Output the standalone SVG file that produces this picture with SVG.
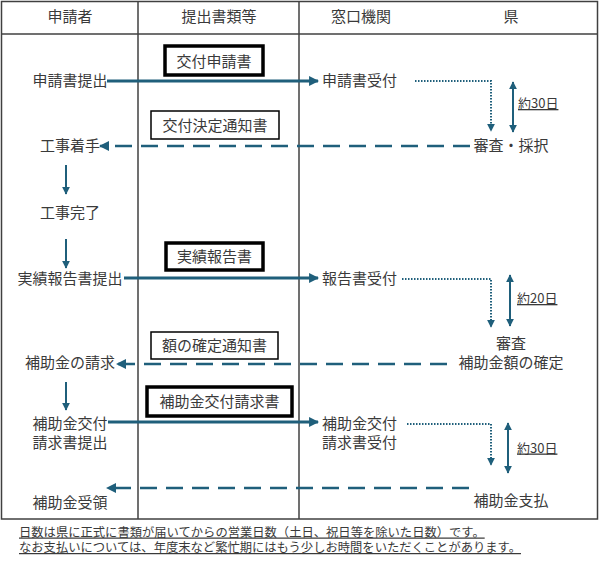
<svg xmlns="http://www.w3.org/2000/svg" width="600" height="564" viewBox="0 0 600 564">
<defs>
<style>
text{font-family:"Noto Sans CJK JP","Noto Sans",sans-serif;fill:#3a3a3a;font-size:15px}
.m{text-anchor:middle}
.day{font-size:13px;text-decoration:underline}
.note{font-size:12.3px;text-decoration:underline}
.grid{stroke:#404040;stroke-width:1.5;fill:none}
.solid{stroke:#1f5f7b;stroke-width:3;fill:none}
.dash{stroke:#1f5f7b;stroke-width:2.5;fill:none;stroke-dasharray:17 9}
.dot{stroke:#1f5f7b;stroke-width:2;fill:none;stroke-dasharray:1.5 1.5}
.thin{stroke:#1f5f7b;stroke-width:2;fill:none}
.thick{fill:#fff;stroke:#000;stroke-width:3.5}
.box{fill:#fff;stroke:#000;stroke-width:1.5}
</style>
<marker id="ah" viewBox="0 0 10 10" refX="9" refY="5" markerWidth="3.3" markerHeight="3.3" orient="auto-start-reverse" markerUnits="strokeWidth"><path d="M0,0L10,5L0,10z" fill="#1f5f7b"/></marker>
<marker id="ahs" viewBox="0 0 10 10" refX="9" refY="5" markerWidth="4" markerHeight="4" orient="auto-start-reverse" markerUnits="strokeWidth"><path d="M0,0L10,5L0,10z" fill="#1f5f7b"/></marker>
<marker id="ahd" viewBox="0 0 10 10" refX="9" refY="5" markerWidth="4" markerHeight="4" orient="auto-start-reverse" markerUnits="strokeWidth"><path d="M0,0L10,5L0,10z" fill="#1f5f7b"/></marker>
</defs>
<g id="table">
<rect x="1.5" y="1.5" width="596" height="517.5" class="grid"/>
<line x1="1.5" y1="34" x2="597.5" y2="34" class="grid"/>
<line x1="138" y1="1.5" x2="138" y2="519" class="grid"/>
<line x1="299" y1="1.5" x2="299" y2="519" class="grid"/>
<text x="70" y="21.5" class="m">申請者</text>
<text x="219" y="21.5" class="m">提出書類等</text>
<text x="361" y="21.5" class="m">窓口機関</text>
<text x="511" y="21.5" class="m">県</text>
</g>
<g id="connectors">
<line x1="107" y1="81" x2="318" y2="81" class="solid" marker-end="url(#ah)"/>
<polyline points="415,81 491,81 491,131" class="dot" marker-end="url(#ahd)"/>
<line x1="513" y1="82" x2="513" y2="132" class="thin" marker-start="url(#ahs)" marker-end="url(#ahs)"/>
<line x1="470" y1="146" x2="100" y2="146" class="dash" marker-end="url(#ahd)"/>
<line x1="66" y1="165" x2="66" y2="194" class="thin" marker-end="url(#ahs)"/>
<line x1="66" y1="239" x2="66" y2="268" class="thin" marker-end="url(#ahs)"/>
<line x1="124" y1="278" x2="318" y2="278" class="solid" marker-end="url(#ah)"/>
<polyline points="402,279 491,279 491,327" class="dot" marker-end="url(#ahd)"/>
<line x1="510" y1="275" x2="510" y2="326" class="thin" marker-start="url(#ahs)" marker-end="url(#ahs)"/>
<line x1="447" y1="364" x2="117" y2="364" class="dash" marker-end="url(#ahd)"/>
<line x1="66" y1="382" x2="66" y2="410" class="thin" marker-end="url(#ahs)"/>
<line x1="108" y1="422" x2="318" y2="422" class="solid" marker-end="url(#ah)"/>
<polyline points="407,424 491,424 491,465" class="dot" marker-end="url(#ahd)"/>
<line x1="508" y1="423" x2="508" y2="473" class="thin" marker-start="url(#ahs)" marker-end="url(#ahs)"/>
<line x1="469" y1="488" x2="107" y2="488" class="dash" marker-end="url(#ahd)"/>
</g>
<g id="doc1"><rect x="165" y="46" width="98" height="29" class="thick"/><text x="214" y="67" class="m">交付申請書</text></g>
<g id="doc2"><rect x="151" y="111" width="128" height="28" class="box"/><text x="215" y="130.5" class="m">交付決定通知書</text></g>
<g id="doc3"><rect x="166" y="243" width="97" height="27" class="thick"/><text x="214.5" y="262" class="m">実績報告書</text></g>
<g id="doc4"><rect x="151" y="332" width="127" height="27" class="box"/><text x="214.5" y="351" class="m">額の確定通知書</text></g>
<g id="doc5"><rect x="147" y="387" width="145" height="29" class="thick"/><text x="219.5" y="407" class="m">補助金交付請求書</text></g>
<g id="n1"><text x="70" y="85.5" class="m">申請書提出</text></g>
<g id="n2"><text x="322" y="85.5">申請書受付</text></g>
<g id="n3"><text x="511" y="151" class="m">審査・採択</text></g>
<g id="n4"><text x="70" y="151" class="m">工事着手</text></g>
<g id="n5"><text x="70" y="217.5" class="m">工事完了</text></g>
<g id="n6"><text x="70" y="283.5" class="m">実績報告書提出</text></g>
<g id="n7"><text x="322" y="283.5">報告書受付</text></g>
<g id="n8"><text x="511" y="348.5" class="m">審査</text><text x="511" y="368" class="m">補助金額の確定</text></g>
<g id="n9"><text x="70" y="367.5" class="m">補助金の請求</text></g>
<g id="n10"><text x="70" y="428.5" class="m">補助金交付</text><text x="70" y="447.5" class="m">請求書提出</text></g>
<g id="n11"><text x="322" y="428.5">補助金交付</text><text x="322" y="447.5">請求書受付</text></g>
<g id="n12"><text x="70" y="507.5" class="m">補助金受領</text></g>
<g id="n13"><text x="511" y="505.5" class="m">補助金支払</text></g>
<g id="days"><text x="518" y="108" class="day">約30日</text><text x="517" y="303" class="day">約20日</text><text x="517" y="452.5" class="day">約30日</text></g>
<g id="footnote">
<text x="19" y="536.5" class="note">日数は県に正式に書類が届いてからの営業日数（土日、祝日等を除いた日数）です。</text>
<text x="19" y="552" class="note">なお支払いについては、年度末など繁忙期にはもう少しお時間をいただくことがあります。</text>
</g>
</svg>
